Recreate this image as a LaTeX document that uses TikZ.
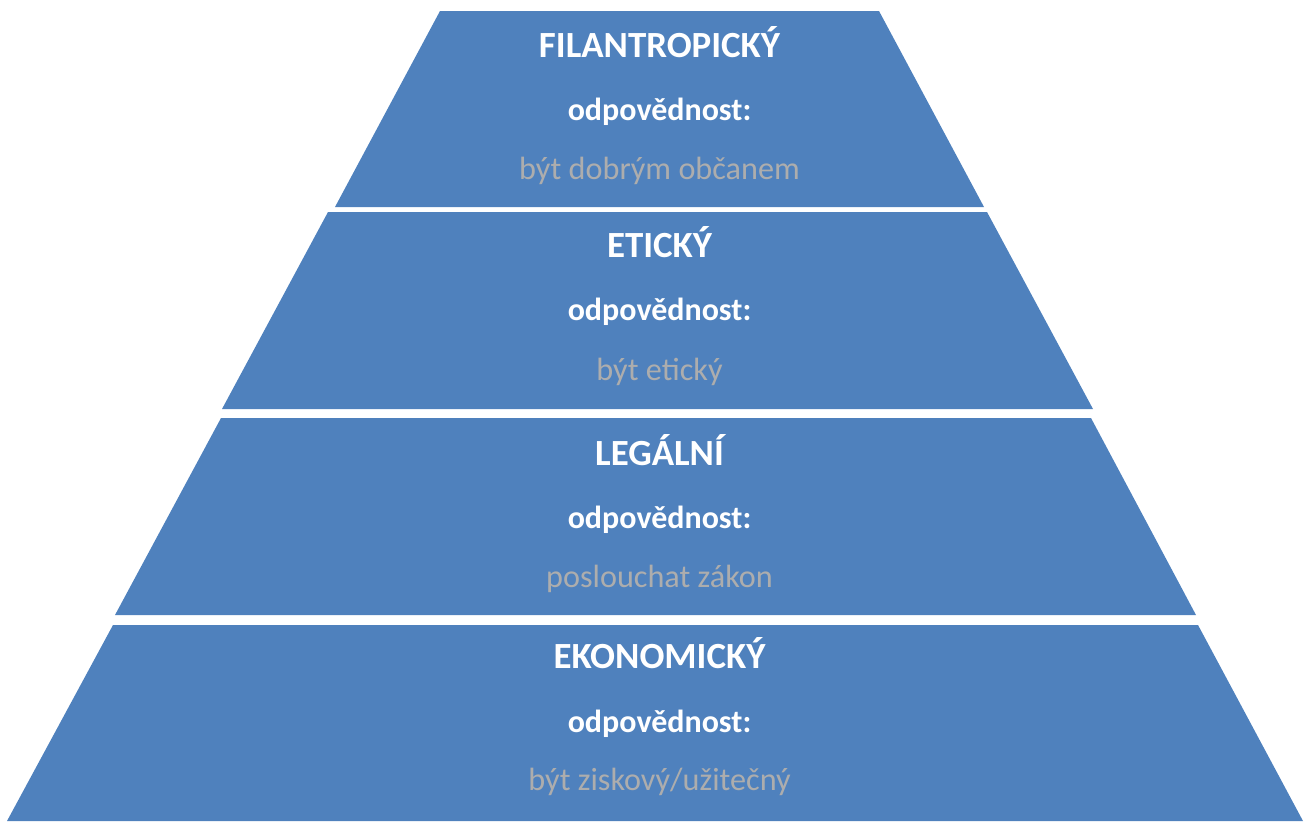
\documentclass[tikz,border=0pt]{standalone}
\usepackage{fontspec}
\setmainfont{Carlito}
\definecolor{layerblue}{HTML}{4F81BD}
\definecolor{notegrey}{HTML}{ADADAD}
\begin{document}
\begin{tikzpicture}[x=1pt,y=-1pt,
  layer/.style={fill=layerblue,draw=none},
  title/.style={anchor=base,text=white,font=\fontsize{36.9}{40}\selectfont\bfseries,inner sep=0pt},
  resp/.style={anchor=base,text=white,font=\fontsize{32}{36}\selectfont\bfseries,inner sep=0pt},
  note/.style={anchor=base,text=notegrey,font=\fontsize{32.2}{36}\selectfont,inner sep=0pt}]
\useasboundingbox (0,0) rectangle (1306,823);
% pyramid layers, top to bottom
\fill[layer] (440,11) -- (879,11) -- (984,207) -- (335,207) -- cycle;
\fill[layer] (328,212) -- (987,212) -- (1093,409) -- (222,409) -- cycle;
\fill[layer] (221,418) -- (1091,418) -- (1196,615) -- (115,615) -- cycle;
\fill[layer] (113,625) -- (1198,625) -- (1303,821) -- (7,821) -- cycle;
% philanthropic
\node[title] (t1) at (659.5,57) {FILANTROPICKÝ};
\node[resp]  (r1) at (659.5,120) {odpovědnost:};
\node[note]  (n1) at (659.5,179) {být dobrým občanem};
% ethical
\node[title] (t2) at (659.5,257) {ETICKÝ};
\node[resp]  (r2) at (659.5,320) {odpovědnost:};
\node[note]  (n2) at (659.5,380) {být etický};
% legal
\node[title] (t3) at (659.5,465) {LEGÁLNÍ};
\node[resp]  (r3) at (659.5,528) {odpovědnost:};
\node[note]  (n3) at (659.5,587) {poslouchat zákon};
% economic
\node[title] (t4) at (659.5,668) {EKONOMICKÝ};
\node[resp]  (r4) at (659.5,732) {odpovědnost:};
\node[note]  (n4) at (659.5,790) {být ziskový/užitečný};
\end{tikzpicture}
\end{document}
